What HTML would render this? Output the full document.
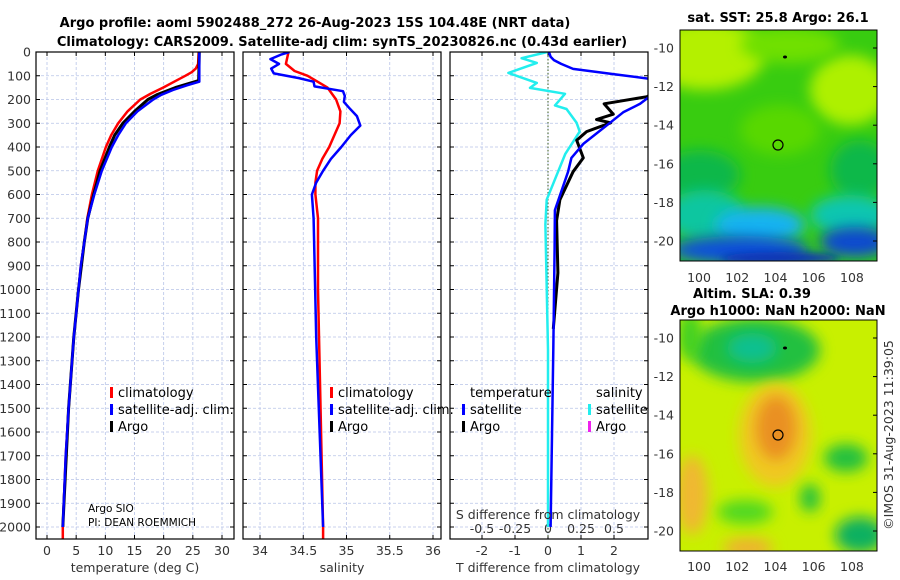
<!DOCTYPE html>
<html><head><meta charset="utf-8">
<style>
html,body{margin:0;padding:0;background:#fff;}
svg{display:block;font-family:"DejaVu Sans","Liberation Sans",sans-serif;}
.tk{font-size:12.5px;fill:#333;}
.ttl{font-size:13px;font-weight:bold;fill:#000;}
.lg{font-size:13px;fill:#000;}
.grid{stroke:#b8c4e8;stroke-width:0.8;stroke-dasharray:3,2;}
</style></head>
<body>
<svg id="fig" width="900" height="580" viewBox="0 0 900 580">
<defs>
<clipPath id="c1"><rect x="36" y="52" width="198" height="487"/></clipPath>
<clipPath id="c2"><rect x="243" y="52" width="198" height="487"/></clipPath>
<clipPath id="c3"><rect x="450" y="52" width="198" height="487"/></clipPath>
<clipPath id="m1"><rect x="680" y="30" width="197" height="231"/></clipPath>
<clipPath id="m2"><rect x="680" y="320" width="197" height="231"/></clipPath>
<filter id="bl" x="-50%" y="-50%" width="200%" height="200%"><feGaussianBlur stdDeviation="7"/></filter>
<filter id="bl2" x="-50%" y="-50%" width="200%" height="200%"><feGaussianBlur stdDeviation="4"/></filter>
</defs>
<text class="ttl" x="315" y="27" text-anchor="middle">Argo profile: aoml 5902488_272 26-Aug-2023 15S 104.48E (NRT data)</text>
<text class="ttl" x="342" y="46" text-anchor="middle">Climatology: CARS2009. Satellite-adj clim: synTS_20230826.nc (0.43d earlier)</text>
<g id="p1"></g>
<g id="p2"></g>
<g id="p3"></g>
<g id="maps"></g>
</svg>
<script>
// ---- data ----
const tempDepth = [0,50,70,85,100,125,150,175,200,250,300,350,400,500,600,700,800,900,1000,1100,1200,1500,1700,2000,2050];
const tempClim  = [26,25.9,25.5,24.8,23.7,21.8,19.9,17.8,16,13.8,12.2,11.0,10.1,8.7,7.7,6.9,6.4,5.8,5.4,5.0,4.6,3.7,3.2,2.7,2.7];
const tempSatDepth = [0,125,140,160,180,200,250,300,350,400,500,600,700,800,900,1000,1100,1200,1500,1700,2000];
const tempSat   = [26.1,26.1,24.0,21.6,19.6,18.2,15.5,13.5,12.2,11.1,9.4,8.1,7.0,6.4,5.8,5.4,5.0,4.6,3.7,3.2,2.7];
const tempArgoDepth = [0,120,150,180,200,250,300,350,400,500,600,700,800,1000,1200,1500,2000];
const tempArgo  = [26.1,26.0,22.0,18.8,17.3,15.0,13.0,11.6,10.7,9.1,8.0,7.0,6.4,5.4,4.6,3.7,2.7];
const salClimDepth = [0,50,80,100,150,200,250,300,350,400,450,500,550,600,700,1000,2000,2050];
const salClim = [34.33,34.3,34.4,34.55,34.78,34.88,34.93,34.92,34.86,34.8,34.72,34.66,34.64,34.64,34.67,34.67,34.73,34.73];
const salSatDepth = [0,10,30,50,70,90,110,125,145,165,185,210,235,270,310,350,400,450,500,550,600,700,1200,2000];
const salSat = [34.34,34.25,34.12,34.22,34.13,34.16,34.45,34.62,34.63,34.96,34.98,34.97,35.03,35.12,35.16,35.05,34.94,34.82,34.73,34.65,34.6,34.62,34.65,34.73];
const dTSatDepth = [0,20,34,50,71,93,115,150,196,218,254,298,387,446,504,666,828,1254,2000];
const dTSat = [0.03,0.08,0.18,0.4,0.76,1.98,3.2,3.5,3.0,2.79,2.28,1.88,1.07,0.71,0.61,0.21,0.2,0.16,0.08];
const dTArgoDepth = [150,188,218,262,284,298,335,372,446,504,622,710,930,1166];
const dTArgo = [3.5,3.0,1.7,1.98,1.47,1.9,1.17,0.87,1.07,0.76,0.36,0.26,0.3,0.16];
const dSSatDepth = [0,26,46,88,130,151,176,225,240,298,335,430,622,725,1254,2000];
const dSSat = [-0.005,-0.2,-0.085,-0.3,-0.085,-0.136,0.129,0.053,0.14,0.217,0.24,0.13,-0.01,-0.02,0,0.0];
const depthTicks = [0,100,200,300,400,500,600,700,800,900,1000,1100,1200,1300,1400,1500,1600,1700,1800,1900,2000];
const tempTicks = [0,5,10,15,20,25,30];
const salTicks = [34,34.5,35,35.5,36];
const dTTicks = [-2,-1,0,1,2];
const dSTicks = [-0.5,-0.25,0,0.25,0.5];
const dSTickLabels = ["-0.5","-0.25","0","0.25","0.5"];
const latTicks = [-10,-12,-14,-16,-18,-20];
const lonTicks = [100,102,104,106,108];

// ---- scales ----
const NS='http://www.w3.org/2000/svg';
const yD = d => 52 + d*0.2375;
const xT = t => 47 + t*(175/30);
const xS = s => 260 + (s-34)*(173/2);
const xDT = t => 548 + t*33;
const xDS = s => 548 + s*132;
const yLat1 = la => 48 + (-10-la)*19.3;
const yLat2 = la => 338 + (-10-la)*19.3;
const xLon = lo => 699 + (lo-100)*19.12;

function el(tag, attrs, parent, txt){
  const e=document.createElementNS(NS,tag);
  for(const k in attrs) e.setAttribute(k,attrs[k]);
  if(txt!==undefined) e.textContent=txt;
  parent.appendChild(e); return e;
}
function line(parent, xs, ds, fx, color, w, clip, name){
  const pts = xs.map((v,i)=>fx(v).toFixed(1)+','+yD(ds[i]).toFixed(1)).join(' ');
  const p = el('polyline',{points:pts,fill:'none',stroke:color,'stroke-width':w,'stroke-linejoin':'round','clip-path':'url(#'+clip+')'},parent);
  
  
  return p;
}
function frame(parent, x0, clip){
  const g = el('g',{},parent);
  depthTicks.forEach(d=>{
    const gl = el('line',{x1:x0,x2:x0+198,y1:yD(d),y2:yD(d),class:'grid'},g);
    
    
    el('line',{x1:x0,x2:x0+4,y1:yD(d),y2:yD(d),stroke:'#000','stroke-width':1},g);
    el('line',{x1:x0+194,x2:x0+198,y1:yD(d),y2:yD(d),stroke:'#000','stroke-width':1},g);
  });
  return g;
}
function box(parent,x0){
  const r = el('rect',{x:x0,y:52,width:198,height:487,fill:'none',stroke:'#000','stroke-width':1.2},parent);
  
  
}
function vgrid(parent, ticks, fx){
  ticks.forEach(t=>{
    const gl = el('line',{x1:fx(t),x2:fx(t),y1:52,y2:539,class:'grid'},parent);
    
    
    el('line',{x1:fx(t),x2:fx(t),y1:535,y2:539,stroke:'#000'},parent);
    el('line',{x1:fx(t),x2:fx(t),y1:52,y2:56,stroke:'#000'},parent);
  });
}
function legendEntry(parent,x,y,color,label){
  const b = el('rect',{x:x,y:y-10,width:3,height:11,fill:color},parent);
  
  
  const t = el('text',{x:x+8,y:y,class:'lg'},parent,label);
  
  
}

// ---- panel 1 temperature ----
const p1=document.getElementById('p1');
frame(p1,36); vgrid(p1,tempTicks,xT);
depthTicks.forEach(d=>{
  const t=el('text',{x:31,y:yD(d)+4.5,class:'tk','text-anchor':'end'},p1,String(d));
  
  
});
tempTicks.forEach(v=>{
  const t=el('text',{x:xT(v),y:555,class:'tk','text-anchor':'middle'},p1,String(v));
  
  
});
line(p1,tempClim,tempDepth,xT,'#f00',2.5,'c1','temp-climatology-line');
line(p1,tempArgo,tempArgoDepth,xT,'#000',3,'c1','temp-argo-line');
line(p1,tempSat,tempSatDepth,xT,'#00f',2.5,'c1','temp-satellite-line');
box(p1,36);
legendEntry(p1,110,397,'#f00','climatology');
legendEntry(p1,110,414,'#00f','satellite-adj. clim.');
legendEntry(p1,110,431,'#000','Argo');
let tx=el('text',{x:88,y:512,'font-size':'10.5px',fill:'#000'},p1,'Argo SIO');  
tx=el('text',{x:88,y:526,'font-size':'10.5px',fill:'#000'},p1,'PI: DEAN ROEMMICH');  
tx=el('text',{x:135,y:572,class:'tk','font-size':'13px','text-anchor':'middle'},p1,'temperature (deg C)');  

// ---- panel 2 salinity ----
const p2=document.getElementById('p2');
frame(p2,243); vgrid(p2,salTicks,xS);
salTicks.forEach(v=>{
  const t=el('text',{x:xS(v),y:555,class:'tk','text-anchor':'middle'},p2,String(v));
  
  
});
line(p2,salClim,salClimDepth,xS,'#f00',2.5,'c2','sal-climatology-line');
line(p2,salSat,salSatDepth,xS,'#00f',2.5,'c2','sal-satellite-line');
box(p2,243);
legendEntry(p2,330,397,'#f00','climatology');
legendEntry(p2,330,414,'#00f','satellite-adj. clim.');
legendEntry(p2,330,431,'#000','Argo');
tx=el('text',{x:342,y:572,class:'tk','font-size':'13px','text-anchor':'middle'},p2,'salinity');  

// ---- panel 3 differences ----
const p3=document.getElementById('p3');
frame(p3,450); vgrid(p3,dTTicks,xDT);
el('line',{x1:xDT(0),x2:xDT(0),y1:52,y2:539,stroke:'#3a5a20','stroke-width':1,'stroke-dasharray':'1.5,2'},p3);
dTTicks.forEach(v=>{
  const t=el('text',{x:xDT(v),y:555,class:'tk','text-anchor':'middle'},p3,String(v));
  
  
});
dSTicks.forEach((v,i)=>{
  const t=el('text',{x:xDS(v),y:533,class:'tk','text-anchor':'middle'},p3,dSTickLabels[i]);
  
  
});
line(p3,dSSat,dSSatDepth,xDS,'#22eeee',2.5,'c3','sal-diff-satellite-line');
line(p3,dTArgo,dTArgoDepth,xDT,'#000',3,'c3','temp-diff-argo-line');
line(p3,dTSat,dTSatDepth,xDT,'#00f',2.5,'c3','temp-diff-satellite-line');
box(p3,450);
tx=el('text',{x:470,y:397,class:'lg'},p3,'temperature');  
legendEntry(p3,462,414,'#00f','satellite');
legendEntry(p3,462,431,'#000','Argo');
tx=el('text',{x:596,y:397,class:'lg'},p3,'salinity');  
legendEntry(p3,588,414,'#22eeee','satellite');
legendEntry(p3,588,431,'#ee22ee','Argo');
tx=el('text',{x:548,y:519,class:'tk','font-size':'13px','text-anchor':'middle'},p3,'S difference from climatology');  
tx=el('text',{x:548,y:572,class:'tk','font-size':'13px','text-anchor':'middle'},p3,'T difference from climatology');  

// ---- maps ----
const mp=document.getElementById('maps');
function blob(g,cx,cy,rx,ry,fill,f){ el('ellipse',{cx:cx,cy:cy,rx:rx,ry:ry,fill:fill,filter:'url(#'+(f||'bl')+')'},g); }
function mapAxes(yfn,y0,xlabY){
  latTicks.forEach(la=>{
    const t=el('text',{x:674,y:yfn(la)+4.5,class:'tk','text-anchor':'end'},mp,String(la));
    
    
    el('line',{x1:873,x2:877,y1:yfn(la),y2:yfn(la),stroke:'#000'},mp);
  });
  lonTicks.forEach(lo=>{
    const t=el('text',{x:xLon(lo),y:xlabY,class:'tk','text-anchor':'middle'},mp,String(lo));
    
    
  });
  const r=el('rect',{x:680,y:y0,width:197,height:231,fill:'none',stroke:'#000','stroke-width':1},mp);
  
  
}
// SST map
let g1=el('g',{'clip-path':'url(#m1)'},mp);


el('rect',{x:680,y:30,width:197,height:231,fill:'#38cc10'},g1);
blob(g1,705,55,60,35,'#b4f000');
blob(g1,850,90,40,35,'#aef000');
blob(g1,790,45,50,18,'#70e000');
blob(g1,780,130,40,25,'#58d800');
blob(g1,700,175,40,25,'#10b84a');
blob(g1,860,170,30,30,'#10b84a');
blob(g1,705,215,40,25,'#10c6a0');
blob(g1,850,215,40,20,'#10c6b0');
blob(g1,760,225,45,18,'#18b4f0');
blob(g1,740,250,70,14,'#1050dc');
blob(g1,855,242,35,15,'#1048d0');
blob(g1,780,258,60,6,'#0830b8','bl2');
el('ellipse',{cx:785,cy:57,rx:2,ry:1.5,fill:'#000'},g1);
el('circle',{cx:778,cy:145,r:5,fill:'none',stroke:'#000','stroke-width':1.2},g1);
mapAxes(yLat1,30,282);
tx=el('text',{x:778,y:22,class:'ttl','text-anchor':'middle'},mp,'sat. SST: 25.8 Argo: 26.1');  
// SLA map
let g2=el('g',{'clip-path':'url(#m2)'},mp);


el('rect',{x:680,y:320,width:197,height:231,fill:'#c8f000'},g2);
blob(g2,755,350,65,32,'#20c040');
blob(g2,752,348,25,15,'#10c090');
blob(g2,690,335,12,25,'#40d020');
blob(g2,775,435,36,52,'#f0c820');
blob(g2,776,428,20,32,'#ea9020');
blob(g2,692,495,16,40,'#f0b830');
blob(g2,748,548,25,10,'#f0b030');
blob(g2,846,458,22,14,'#20c040');
blob(g2,810,498,10,14,'#20c040');
blob(g2,860,535,25,18,'#10b060');
blob(g2,745,512,28,12,'#50d820');
blob(g2,838,570,12,10,'#40d020');
el('ellipse',{cx:785,cy:348,rx:2,ry:1.5,fill:'#000'},g2);
el('circle',{cx:778,cy:435,r:5,fill:'none',stroke:'#000','stroke-width':1.2},g2);
mapAxes(yLat2,320,571);
tx=el('text',{x:752,y:298,class:'ttl','text-anchor':'middle'},mp,'Altim. SLA: 0.39');  
tx=el('text',{x:778,y:315,class:'ttl','text-anchor':'middle'},mp,'Argo h1000: NaN h2000: NaN');  
tx=el('text',{x:0,y:0,class:'tk','font-size':'13px','text-anchor':'middle',transform:'translate(893,435) rotate(-90)'},mp,'©IMOS 31-Aug-2023 11:39:05');  
</script>
</body></html>
